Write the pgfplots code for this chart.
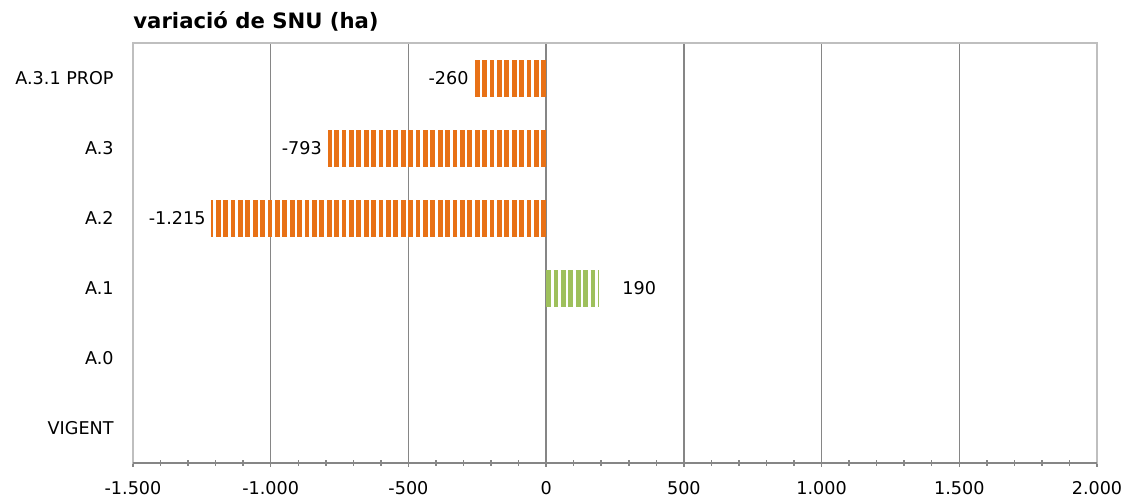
\documentclass[border=0pt]{standalone}
\usepackage{fontspec}
\setmainfont{DejaVu Sans}
\usepackage{pgfplots}
\pgfplotsset{compat=1.18}
\definecolor{barorange}{RGB}{232,113,22}
\definecolor{bargreen}{RGB}{158,192,92}
\definecolor{gridgray}{RGB}{134,134,134}
\definecolor{boxgray}{RGB}{191,191,191}
\begin{document}
\begin{tikzpicture}
\useasboundingbox (-66.5pt,-17.5pt) rectangle (496pt,231.5pt);
\begin{axis}[
  at={(0,0)}, anchor=south west,
  scale only axis, width=482pt, height=210pt,
  xmin=-1500, xmax=2000, ymin=-0.5, ymax=5.5,
  xtick={-1500,-1000,...,2000},
  minor x tick num=4,
  xtick pos=bottom,
  ytick={0,...,5},
  yticklabels={VIGENT,A.0,A.1,A.2,A.3,A.3.1 PROP},
  ytick style={draw=none},
  xmajorgrids,
  major grid style={draw=gridgray, line width=0.75pt},
  axis line style={draw=boxgray, line width=0.75pt},
  x tick style={draw=gridgray, line width=0.75pt},
  minor x tick style={draw=gridgray, line width=0.75pt},
  tick align=center,
  major tick length=4pt, minor tick length=3pt,
  /pgf/number format/1000 sep={.},
  /pgf/number format/assume math mode=true,
  ticklabel style={font=\fontsize{8.8}{10}\selectfont},
  xticklabel style={anchor=north, inner sep=0pt, yshift=-7pt},
  yticklabel style={anchor=east, inner sep=0pt, xshift=-7.5pt},
  title={variació de SNU (ha)},
  title style={at={(0,1)}, anchor=base west, yshift=1.5pt, inner sep=0pt, font=\fontsize{10.6}{12}\selectfont\bfseries},
  nodes near coords,
  nodes near coords align={horizontal},
  point meta=x,
  every node near coord/.append style={font=\fontsize{8.8}{10}\selectfont, text=black, outer sep=0pt, inner sep=3pt, line width=0.4pt, solid},
  clip=false,
  extra description/.code={\draw[gridgray, line width=0.75pt] (axis description cs:0,0) -- (axis description cs:1,0);},
]
\addplot[xcomb, mark=none, draw=barorange, line width=18.5pt, line cap=butt, dash pattern=on 2.4pt off 1.3pt] coordinates {(-260,5) (-793,4) (-1215,3)};
\addplot[xcomb, mark=none, draw=bargreen, line width=18.5pt, line cap=butt, dash pattern=on 2.4pt off 1.3pt, nodes near coords style={xshift=9pt}] coordinates {(190,2)};
\end{axis}
\end{tikzpicture}
\end{document}
